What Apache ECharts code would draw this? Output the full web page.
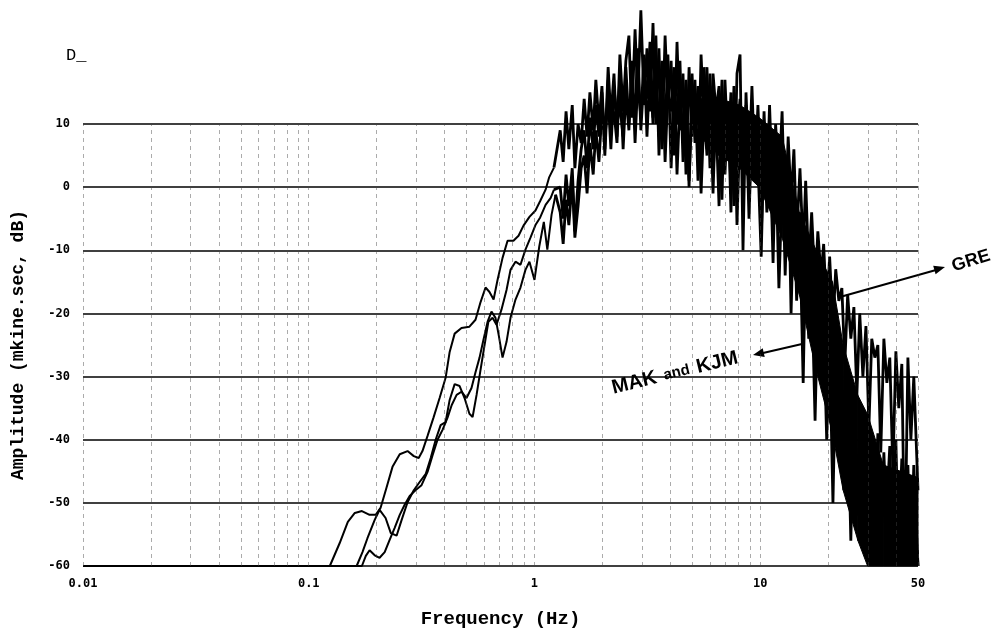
<!DOCTYPE html>
<html>
<head>
<meta charset="utf-8">
<title>Amplitude spectra - D</title>
<script src="https://cdn.jsdelivr.net/npm/echarts@6/dist/echarts.min.js"></script>
<style>
	html, body { margin: 0; padding: 0; background: #fff; }
	#chart { width: 1001px; height: 634px; }
</style>
</head>
<body>
<div id="chart"></div>
<script>
	'use strict';

	// smooth low frequency part of each record, [Hz, dB]
	var lowGre = [[0.01, -60], [0.124, -60], [0.137, -56.4], [0.149, -53.0], [0.160, -51.6], [0.172, -51.3],
		[0.186, -51.9], [0.198, -51.9], [0.208, -50.8], [0.221, -47.6], [0.235, -44.3], [0.253, -42.3],
		[0.274, -41.8], [0.292, -42.6], [0.307, -42.9], [0.319, -41.8], [0.336, -39.4], [0.357, -36.5],
		[0.380, -33.4], [0.404, -30.2], [0.421, -26.1], [0.443, -23.2], [0.475, -22.3], [0.515, -22.1],
		[0.548, -21.0], [0.577, -18.2], [0.607, -15.9], [0.632, -16.6], [0.659, -17.8], [0.686, -14.7],
		[0.722, -11.2], [0.760, -8.5], [0.807, -8.5], [0.850, -7.7], [0.894, -6.1], [0.950, -4.7],
		[1.01, -3.7], [1.06, -2.2], [1.12, -0.4], [1.16, 1.5], [1.22, 3.1]];

	var lowMak = [[0.01, -60], [0.163, -60], [0.173, -57.8], [0.182, -55.6], [0.196, -52.7], [0.206, -51.1],
		[0.219, -52.4], [0.231, -54.8], [0.245, -55.2], [0.258, -52.7], [0.274, -49.9], [0.292, -48.0],
		[0.310, -46.7], [0.330, -45.4], [0.347, -42.9], [0.365, -40.0], [0.384, -37.7], [0.404, -37.2],
		[0.421, -33.7], [0.443, -31.2], [0.466, -31.5], [0.490, -33.4], [0.515, -35.9], [0.532, -36.4],
		[0.554, -32.9], [0.577, -28.9], [0.601, -25.0], [0.625, -21.3], [0.652, -20.7], [0.679, -21.8],
		[0.714, -19.4], [0.752, -16.3], [0.783, -13.1], [0.824, -11.8], [0.867, -12.3], [0.912, -9.9],
		[0.960, -8.0], [1.01, -6.0], [1.06, -4.8], [1.12, -2.8], [1.18, -1.7], [1.22, -0.4]];

	var lowKjm = [[0.01, -60], [0.172, -60], [0.179, -58.4], [0.186, -57.5], [0.196, -58.3], [0.206, -58.7],
		[0.217, -57.8], [0.228, -55.9], [0.240, -54.0], [0.253, -51.9], [0.266, -50.3], [0.280, -48.9],
		[0.297, -48.0], [0.316, -47.2], [0.336, -45.1], [0.354, -42.4], [0.372, -40.0], [0.392, -38.4],
		[0.412, -36.5], [0.430, -34.5], [0.452, -32.9], [0.475, -32.4], [0.500, -33.4], [0.526, -31.8],
		[0.548, -29.3], [0.571, -27.0], [0.594, -24.2], [0.620, -21.3], [0.645, -19.7], [0.672, -20.7],
		[0.694, -23.4], [0.722, -27.0], [0.752, -24.5], [0.783, -20.7], [0.824, -17.8], [0.867, -15.9],
		[0.912, -13.1], [0.950, -11.8], [1.00, -14.7], [1.05, -9.4], [1.10, -5.5], [1.14, -9.9],
		[1.19, -4.4], [1.24, -1.2]];

	// noisy high frequency part, shared frequencies (Hz)
	var noiseFreq = [1.30, 1.34, 1.38, 1.42, 1.47, 1.51, 1.56, 1.61, 1.66, 1.71,
		1.76, 1.82, 1.87, 1.93, 1.99, 2.05, 2.12, 2.18, 2.25, 2.32,
		2.39, 2.47, 2.54, 2.62, 2.70, 2.79, 2.87, 2.96, 3.06, 3.15,
		3.25, 3.35, 3.45, 3.56, 3.67, 3.79, 3.90, 4.03, 4.15, 4.28,
		4.41, 4.55, 4.69, 4.84, 4.99, 5.14, 5.30, 5.47, 5.64, 5.81,
		5.99, 6.18, 6.37, 6.57, 6.77, 6.98, 7.20, 7.42, 7.65, 7.89,
		8.14, 8.39, 8.65, 8.92, 9.19, 9.48, 9.77, 10.1, 10.4, 10.7,
		11.0, 11.4, 11.7, 12.1, 12.5, 12.9, 13.3, 13.7, 14.1, 14.5,
		15.0, 15.5, 15.9, 16.4, 16.9, 17.5, 18.0, 18.6, 19.1, 19.7,
		20.3, 21.0, 21.6, 22.3, 23.0, 23.7, 24.4, 25.2, 26.0, 26.8,
		27.6, 28.5, 29.4, 30.3, 31.2, 32.2, 33.2, 34.2, 35.3, 36.4,
		37.5, 38.7, 39.9, 41.1, 42.4, 43.7, 45.1, 46.5, 47.9, 50.0];

	var greDb = [9, 4, 12, 6, 13, 3, 10, 7, 14, 8,
		15, 9, 17, 10, 16, 6, 19, 11, 18, 8,
		21, 12, 20, 24, 11, 25, 14, 28, 13, 22,
		12, 26, 10, 22, 6, 24, 13, 20, 5, 23,
		9, 18, 2, 19, 8, 17, 1, 21, 10, 19,
		3, 18, 12, 16, -2, 17, 6, 15, -3, 18,
		21, -10, 15, 3, 16, 2, 13, -1, 12, 0,
		13, -3, 10, 1, 12, -6, 8, -2, 6, -8,
		3, -10, 1, -13, -4, -16, -7, -14, -9, -20,
		-11, -22, -13, -18, -16, -28, -17, -24, -19, -33,
		-20, -30, -22, -38, -24, -27, -25, -42, -24, -31,
		-27, -45, -26, -35, -28, -60, -27, -40, -30, -48];

	var makDb = [0, -5, 2, -3, 3, -7, 1, 6, 9, 3,
		11, 6, 13, 8, 15, 5, 17, 9, 12, 7,
		18, 6, 15, 9, 20, 7, 17, 11, 21, 8,
		19, 10, 24, 5, 18, 9, 21, 3, 16, 10,
		20, 4, 15, 0, 18, 7, 14, 3, 19, 6,
		16, -1, 14, 5, 17, 2, 13, -4, 15, 8,
		14, 1, 12, -5, 10, 3, 11, -8, 7, -2,
		9, -12, 5, -6, 7, -14, 2, -9, -1, -18,
		-4, -26, -8, -20, -12, -30, -14, -28, -19, -36,
		-21, -40, -26, -35, -29, -48, -31, -44, -36, -52,
		-38, -56, -40, -47, -42, -53, -39, -58, -44, -50,
		-41, -60, -45, -55, -43, -60, -47, -60, -44, -60];

	var kjmDb = [-4, -9, -2, -6, 1, -8, -3, 3, 5, -1,
		7, 2, 9, 4, 12, 8, 14, 6, 16, 10,
		13, 8, 19, 10, 16, 12, 22, 9, 18, 14,
		23, 11, 17, 8, 20, 4, 15, 12, 19, 2,
		14, 8, 17, 1, 13, 9, 16, -1, 12, 5,
		18, 2, 11, -3, 14, 7, 12, 0, 16, -6,
		10, 4, 13, -2, 9, 6, 4, -11, 8, -4,
		3, -7, 6, -16, 0, -10, 4, -20, -3, -13,
		-8, -31, -10, -24, -15, -37, -18, -27, -22, -40,
		-25, -50, -28, -38, -31, -45, -34, -56, -33, -47,
		-41, -52, -37, -60, -43, -49, -46, -60, -42, -55,
		-46, -53, -40, -60, -48, -56, -44, -60, -49, -60];

	// where the overlapping traces merge into solid black (Hz, upper dB, lower dB)
	var denseFreq = [5.4, 6.6, 8.1, 9.9, 12.5, 14.9, 17.7, 20.9, 23.3, 27.1, 29.9, 35.1, 50];
	var denseTop = [14, 14, 13, 11, 8, -4, -10, -15, -25, -33, -36, -44, -46];
	var denseBottom = [8, 5, 3, 0, -8, -17, -29, -39, -48, -56, -60, -60, -60];

	// dashed vertical grid of the log axis
	var gridFreq = [0.01, 0.02, 0.03, 0.04, 0.05, 0.06, 0.07, 0.08, 0.09,
		0.1, 0.2, 0.3, 0.4, 0.5, 0.6, 0.7, 0.8, 0.9,
		1, 2, 3, 4, 5, 6, 7, 8, 9,
		10, 20, 30, 40, 50];

	function noisy(low, db) {
		// start from the last smooth point so the trace stays joined
		return [low[low.length - 1]].concat(noiseFreq.map(function(f, i) {
			return [f, db[i]];
		}));
	}

	function trace(name, data, width) {
		return {
			name: name,
			type: 'line',
			clip: false,
			symbol: 'none',
			lineStyle: { color: '#000', width: width },
			data: data
		};
	}

	var chart = echarts.init(document.getElementById('chart'));
	var option = {
		animation: false,
		grid: { left: 83, right: 83, top: 124, bottom: 68 },
		xAxis: {
			type: 'log',
			logBase: 10,
			min: 0.01,
			max: 50,
			name: 'Frequency (Hz)',
			nameLocation: 'middle',
			nameGap: 44,
			nameTextStyle: { fontFamily: 'Liberation Mono', fontWeight: 'bold', fontSize: 19, color: '#000' },
			axisLine: { show: false },
			axisTick: { show: false },
			splitLine: { show: false },
			axisLabel: {
				showMaxLabel: true,
				margin: 12,
				fontFamily: 'DejaVu Sans Mono',
				fontWeight: 'bold',
				fontSize: 12,
				color: '#000'
			}
		},
		yAxis: {
			type: 'value',
			min: -60,
			max: 10,
			interval: 10,
			name: 'Amplitude (mkine.sec, dB)',
			nameLocation: 'middle',
			nameGap: 56,
			nameTextStyle: { fontFamily: 'Liberation Mono', fontWeight: 'bold', fontSize: 18, color: '#000' },
			axisLine: { show: false },
			axisTick: { show: false },
			splitLine: { lineStyle: { color: '#000', width: 1.6 } },
			axisLabel: {
				margin: 13,
				fontFamily: 'DejaVu Sans Mono',
				fontWeight: 'bold',
				fontSize: 12,
				color: '#000'
			}
		},
		series: [{
			name: 'grid',
			type: 'line',
			data: [],
			markLine: {
				silent: true,
				symbol: 'none',
				label: { show: false },
				lineStyle: { color: '#444', width: 1, type: [4, 4], opacity: 0.45 },
				data: gridFreq.map(function(f) { return { xAxis: f }; })
			}
		}, {
			name: 'dense',
			type: 'custom',
			silent: true,
			data: denseFreq.map(function(f, i) { return [f, denseTop[i], denseBottom[i]]; }),
			encode: { x: 0, y: [1, 2] },
			renderItem: function(params, api) {
				var i = params.dataIndex;
				if (i >= denseFreq.length - 1) return null;
				return {
					type: 'polygon',
					shape: {
						points: [
							api.coord([denseFreq[i], denseTop[i]]),
							api.coord([denseFreq[i + 1], denseTop[i + 1]]),
							api.coord([denseFreq[i + 1], denseBottom[i + 1]]),
							api.coord([denseFreq[i], denseBottom[i]])
						]
					},
					style: { fill: '#000', stroke: '#000', lineWidth: 1 }
				};
			}
		},
			trace('GRE', lowGre, 2),
			trace('MAK', lowMak, 2),
			trace('KJM', lowKjm, 2),
			trace('GRE', noisy(lowGre, greDb), 2.8),
			trace('MAK', noisy(lowMak, makDb), 2.8),
			trace('KJM', noisy(lowKjm, kjmDb), 2.8)
		],
		graphic: [{
			type: 'text',
			x: 66, y: 55,
			style: { text: 'D_', font: '17px "Liberation Mono"', fill: '#000', verticalAlign: 'middle' }
		}, {
			type: 'line',
			shape: { x1: 840, y1: 297, x2: 936, y2: 270 },
			style: { stroke: '#000', lineWidth: 2 }
		}, {
			type: 'polygon',
			shape: { points: [[945, 267], [935.6, 274.3], [933.2, 265.7]] },
			style: { fill: '#000' }
		}, {
			type: 'text',
			x: 971, y: 261,
			rotation: 0.3,
			style: { text: 'GRE', font: 'bold 18px "Liberation Sans"', fill: '#000', align: 'center', verticalAlign: 'middle' }
		}, {
			type: 'line',
			shape: { x1: 802, y1: 344, x2: 763, y2: 353 },
			style: { stroke: '#000', lineWidth: 2 }
		}, {
			type: 'polygon',
			shape: { points: [[753, 355], [764.7, 357.0], [762.7, 348.2]] },
			style: { fill: '#000' }
		}, {
			type: 'text',
			x: 675, y: 373,
			rotation: 0.24,
			style: {
				text: '{b|MAK} {s|and} {b|KJM}',
				align: 'center',
				verticalAlign: 'middle',
				rich: {
					b: { font: 'bold 20px "Liberation Sans"', fill: '#000' },
					s: { font: 'bold 15px "Liberation Sans"', fill: '#000', padding: [0, 4, 0, 4] }
				}
			}
		}]
	};
	chart.setOption(option);
</script>
</body>
</html>
